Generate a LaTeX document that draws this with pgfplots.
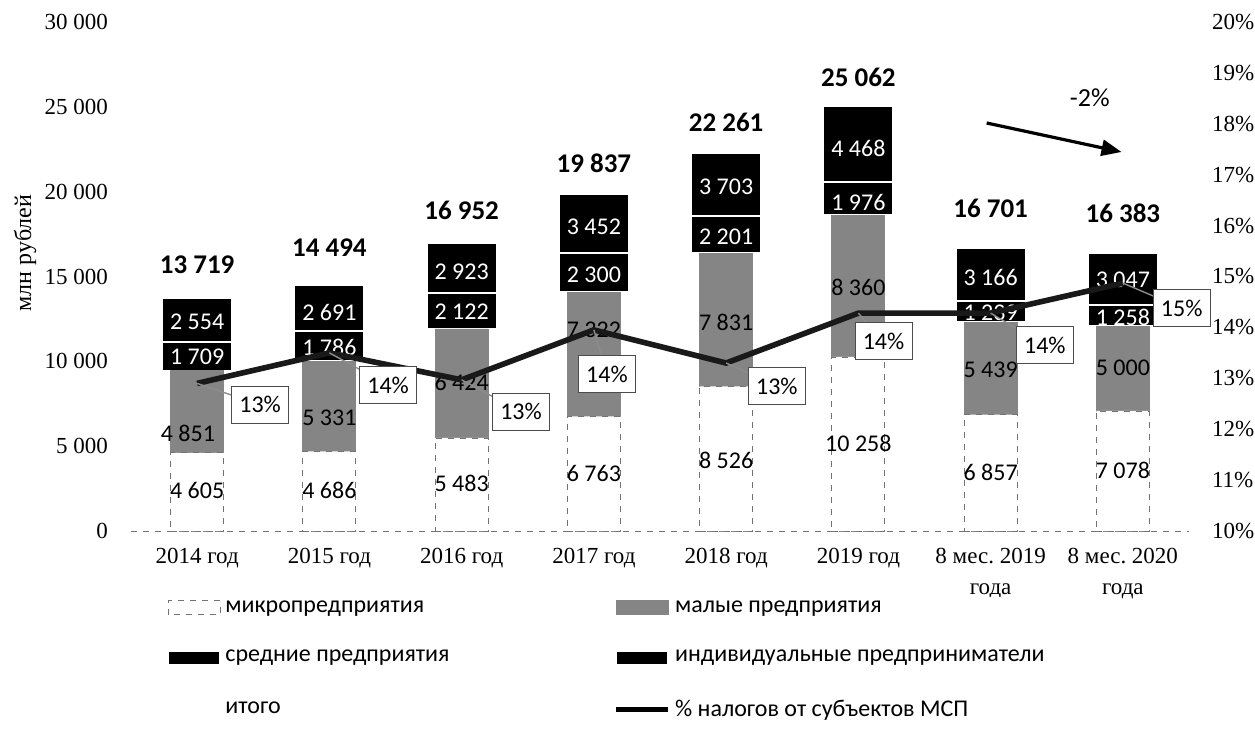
\documentclass[border=0pt]{standalone}
\usepackage{fontspec}
\setmainfont{Liberation Serif}
\newfontfamily\calibri{Carlito}
\usepackage{pgfplots}
\usepackage{pgfplotstable}
\pgfplotsset{compat=1.18}
\usetikzlibrary{arrows.meta}

% taxes, mln rub
\pgfplotstableread{
x micro small medium ip
0 4605 4851 1709 2554
1 4686 5331 1786 2691
2 5483 6424 2122 2923
3 6763 7322 2300 3452
4 8526 7831 2201 3703
5 10258 8360 1976 4468
6 6857 5439 1239 3166
7 7078 5000 1258 3047
}\datatable

% share of SME taxes, %
\pgfplotstableread{
x pct
0 12.90
1 13.50
2 12.97
3 13.95
4 13.30
5 14.28
6 14.28
7 14.87
}\pcttable

\pgfplotsset{
  legimg/.style={legend image code/.code={\draw[##1] (0pt,-3.5pt) rectangle (26pt,3.5pt);}},
  base/.style={scale only axis, width=529pt, height=254.5pt,
    xmin=-0.5, xmax=7.5, clip=false},
}
\tikzset{
  seg/.style={font=\calibri\fontsize{12}{14}\selectfont, inner sep=1pt},
  wseg/.style={seg, text=white},
  tot/.style={font=\calibri\bfseries\fontsize{13.5}{15}\selectfont},
  pbox/.style={draw=black!70, fill=white, font=\calibri\fontsize{12}{14}\selectfont,
    minimum width=28.5pt, minimum height=18.5pt, inner sep=1pt},
  leader/.style={draw=black!45, line width=0.7pt},
}

\begin{document}
\begin{tikzpicture}
\path[use as bounding box] (-65.5pt,-104.5pt) rectangle (562pt,265.5pt);

% bars
\begin{axis}[
  base,
  ybar stacked,
  ymin=0, ymax=30000,
  axis lines*=left,
  x axis line style={black!55, dashed},
  y axis line style={draw=none},
  tick style={draw=none},
  xtick={0,...,7},
  xticklabels={2014 год, 2015 год, 2016 год, 2017 год, 2018 год, 2019 год,
    {8 мес.\ 2019\\года}, {8 мес.\ 2020\\года}},
  x tick label style={font=\fontsize{11.5}{15.5}\selectfont, align=center},
  xticklabel shift=5pt,
  scaled y ticks=false,
  ytick={0,5000,10000,15000,20000,25000,30000},
  yticklabels={0, 5 000, 10 000, 15 000, 20 000, 25 000, 30 000},
  y tick label style={font=\fontsize{11.5}{14}\selectfont},
  yticklabel shift=8pt,
  ylabel={млн рублей},
  ylabel style={at={(axis description cs:-0.1,0.546)}, anchor=center,
    font=\fontsize{12}{14}\selectfont},
  legend columns=2,
  legend cell align=left,
  legend style={at={(axis description cs:0.034,-0.128)}, anchor=north west,
    draw=none, inner sep=0pt, row sep=13.5pt,
    font=\calibri\fontsize{12}{14}\selectfont,
    /tikz/every even column/.append style={column sep=80pt}},
]
\addplot[fill=white, draw=black!55, dashed, bar width=26.5pt, legimg]
  table[x=x, y=micro]{\datatable};
\addlegendentry{микропредприятия}
\addplot[fill=black!48, draw=black!48, bar width=26.5pt, legimg]
  table[x=x, y=small]{\datatable};
\addlegendentry{малые предприятия}
\addplot[fill=black, draw=white, line width=1pt, bar width=35pt, legimg]
  table[x=x, y=medium]{\datatable};
\addlegendentry{средние предприятия}
\addplot[fill=black, draw=white, line width=1pt, bar width=35pt, legimg]
  table[x=x, y=ip]{\datatable};
\addlegendentry{индивидуальные предприниматели}
\addlegendimage{empty legend}
\addlegendentry{итого}
\addlegendimage{legend image code/.code={\draw[black, line width=2.8pt] (0pt,0pt) -- (26pt,0pt);}}
\addlegendentry{\% налогов от субъектов МСП}
\end{axis}

% labels on top of the bars
\begin{axis}[base, hide axis, ymin=0, ymax=30000]
\addplot[draw=none, forget plot] coordinates {(0,0)};
% totals
\node[tot] at (axis cs:0,15678) {13 719};
\node[tot] at (axis cs:1,16680) {14 494};
\node[tot] at (axis cs:2,18920) {16 952};
\node[tot] at (axis cs:3,21690) {19 837};
\node[tot] at (axis cs:4,24106) {22 261};
\node[tot] at (axis cs:5,26759) {25 062};
\node[tot] at (axis cs:6,19000) {16 701};
\node[tot] at (axis cs:7,18750) {16 383};

% segment labels
\node[seg] at (axis cs:0,2417) {4 605};
\node[seg] at (axis cs:-0.07,5776) {4 851};
\node[wseg] at (axis cs:0,10256) {1 709};
\node[wseg] at (axis cs:0,12318) {2 554};
\node[seg] at (axis cs:1,2417) {4 686};
\node[seg] at (axis cs:1,6660) {5 331};
\node[wseg] at (axis cs:1,10845) {1 786};
\node[wseg] at (axis cs:1,12908) {2 691};
\node[seg] at (axis cs:2,2829) {5 483};
\node[seg] at (axis cs:2,8782) {6 424};
\node[wseg] at (axis cs:2,12908) {2 122};
\node[wseg] at (axis cs:2,15265) {2 923};
\node[seg] at (axis cs:3,3419) {6 763};
\node[seg] at (axis cs:3,11847) {7 322};
\node[wseg] at (axis cs:3,15089) {2 300};
\node[wseg] at (axis cs:3,17918) {3 452};
\node[seg] at (axis cs:4,4185) {8 526};
\node[seg] at (axis cs:4,12318) {7 831};
\node[wseg] at (axis cs:4,17328) {2 201};
\node[wseg] at (axis cs:4,20275) {3 703};
\node[seg] at (axis cs:5,5187) {10 258};
\node[seg] at (axis cs:5,14381) {8 360};
\node[wseg] at (axis cs:5,19391) {1 976};
\node[wseg] at (axis cs:5,22574) {4 468};
\node[seg] at (axis cs:6,3477) {6 857};
\node[seg] at (axis cs:6,9489) {5 439};
\node[wseg] at (axis cs:6,12849) {1 239};
\node[wseg] at (axis cs:6,14971) {3 166};
\node[seg] at (axis cs:7,3595) {7 078};
\node[seg] at (axis cs:7,9607) {5 000};
\node[wseg] at (axis cs:7,12613) {1 258};
\node[wseg] at (axis cs:7,14794) {3 047};

% trend arrow
\draw[-{Triangle[length=10pt,width=8pt]}, line width=1.6pt]
  (axis cs:5.97,24048) -- (axis cs:6.99,22338);
\node[font=\calibri\fontsize{13}{15}\selectfont] at (axis cs:6.75,25521) {-2\%};
\end{axis}

% share line, right axis
\begin{axis}[
  base,
  ymin=10, ymax=20,
  axis x line=none,
  axis y line*=right,
  y axis line style={draw=none},
  tick style={draw=none},
  ytick={10,11,12,13,14,15,16,17,18,19,20},
  yticklabels={10\%,11\%,12\%,13\%,14\%,15\%,16\%,17\%,18\%,19\%,20\%},
  y tick label style={font=\fontsize{11.5}{14}\selectfont},
  yticklabel shift=8pt,
]
\addplot[black!90, line width=2.8pt] table[x=x, y=pct]{\pcttable};

\draw[leader] (axis cs:0,12.90) -- (axis cs:0.476,12.48);
\draw[leader] (axis cs:1,13.50) -- (axis cs:1.444,12.87);
\draw[leader] (axis cs:2,12.97) -- (axis cs:2.449,12.34);
\draw[leader] (axis cs:3,13.95) -- (axis cs:3.099,13.08);
\draw[leader] (axis cs:4,13.30) -- (axis cs:4.384,12.85);
\draw[leader] (axis cs:5,14.28) -- (axis cs:5.19,13.73);
\draw[leader] (axis cs:6,14.28) -- (axis cs:6.41,13.65);
\draw[leader] (axis cs:7,14.87) -- (axis cs:7.445,14.38);

\node[pbox] at (axis cs:0.476,12.48) {13\%};
\node[pbox] at (axis cs:1.444,12.87) {14\%};
\node[pbox] at (axis cs:2.449,12.34) {13\%};
\node[pbox] at (axis cs:3.099,13.08) {14\%};
\node[pbox] at (axis cs:4.384,12.85) {13\%};
\node[pbox] at (axis cs:5.19,13.73) {14\%};
\node[pbox] at (axis cs:6.41,13.65) {14\%};
\node[pbox] at (axis cs:7.445,14.38) {15\%};
\end{axis}
\end{tikzpicture}
\end{document}
